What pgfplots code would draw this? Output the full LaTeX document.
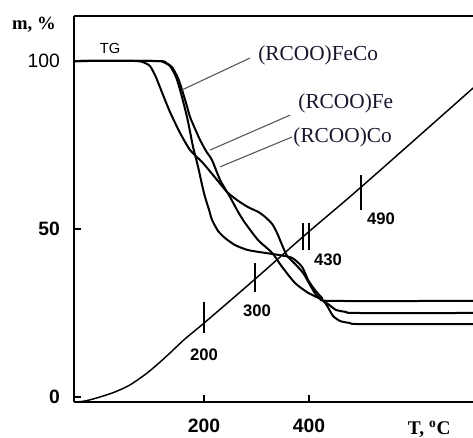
\documentclass[border=0pt]{standalone}
\usepackage{fontspec}
\setmainfont{Liberation Serif}
\setsansfont{Liberation Sans}
\usepackage{pgfplots}
\pgfplotsset{compat=1.18}
\definecolor{lbl}{RGB}{22,22,45}
\definecolor{ptr}{RGB}{85,85,85}

\begin{document}
\begin{tikzpicture}
\useasboundingbox (-55.5pt,-26.25pt) rectangle (299.25pt,301.5pt);
\begin{axis}[
  at={(0,0)}, anchor=south west,
  scale only axis, width=299.25pt, height=289.5pt,
  xmin=-47.6, xmax=712, ymin=-1.5, ymax=113.4,
  axis x line=bottom, axis y line=left,
  axis line style={-, line width=1.4pt},
  xtick={200,400}, ytick={0,50,100},
  xticklabels={\textbf{200},\textbf{400}},
  yticklabels={\textbf{0},\textbf{50}\hspace{7pt},100},
  tick align=inside, major tick length=5pt,
  tick style={line width=1.2pt, black},
  xticklabel style={font=\sffamily\fontsize{14.5}{16}\selectfont, yshift=-9pt},
  yticklabel style={font=\sffamily\fontsize{14.5}{16}\selectfont, xshift=-7pt},
  clip=false,
]
\draw[line width=1.4pt] (rel axis cs:0,1) -- (rel axis cs:1,1);

% TG curves
\addplot[black, line width=1.5pt, line join=round, smooth, tension=0.4] coordinates {
  (-47.6,100) (68.6,100) (87.6,99.4) (97.1,98.5) (106.7,95.8) (114.3,92.9)
  (121.9,89.9) (135.2,84.8) (154.3,78.6) (173.4,73.5) (198.1,69.6)
  (224.8,64.6) (243.8,61.0) (262.9,58.6) (283.8,56.5) (302.9,55.1)
  (316.2,53.6) (329.6,51.5) (339.1,48.8) (348.6,45.2) (358.1,42.0)
  (373.3,39.6) (388.6,36.9) (401.9,33.3) (413.3,30.4) (424.8,28.9)
  (438.1,27.4) (451.4,25.9) (470.5,25.3) (489.5,25.0) (712,25.0)
};
\addplot[black, line width=1.5pt, line join=round, smooth, tension=0.4] coordinates {
  (-47.6,100) (106.7,100) (121.9,99.7) (135.2,98.5) (146.7,95.2) (154.3,91.4)
  (161.9,86.9) (167.6,83.3) (173.4,78.9) (179.1,74.4) (188.6,68.5)
  (196.2,63.1) (201.9,59.5) (209.5,55.7) (215.2,52.7) (226.7,49.4)
  (240.0,47.3) (259.1,45.2) (281.9,43.8) (302.9,43.2) (341.0,42.3)
  (367.6,41.4) (386.7,38.7) (398.1,34.8) (411.4,31.8) (424.8,29.5)
  (440.0,28.6) (712,28.6)
};
\addplot[black, line width=1.5pt, line join=round, smooth, tension=0.4] coordinates {
  (-47.6,100) (112.4,100) (127.6,99.4) (139.0,98.2) (150.5,94.9) (158.1,91.4)
  (165.7,87.5) (173.4,83.3) (182.9,79.8) (192.4,76.5) (203.8,73.2)
  (215.2,70.5) (230.5,64.6) (249.5,59.5) (264.8,55.1) (278.1,51.8)
  (302.9,46.7) (329.6,42.9) (348.6,38.7) (373.3,33.9) (398.1,31.0)
  (424.8,28.9) (434.3,27.1) (445.7,24.1) (459.1,22.6) (478.1,22.0)
  (497.2,21.7) (712,21.7)
};

% temperature curve
\addplot[black, line width=1.1pt, smooth, tension=0.5] coordinates {
  (-47.6,-1.5) (-26.7,-1.2) (1.9,0) (30.5,1.5) (59.1,3.6) (91.4,7.1)
  (116.2,10.4) (135.2,13.1) (163.8,17.3) (200.0,22.0) (297.2,35.1)
  (394.3,48.5) (499.1,62.5) (712.5,92.0)
};
\addplot[black, line width=1.4pt] coordinates {(200,19.0) (200,28.3)};
\addplot[black, line width=1.4pt] coordinates {(297.2,31.3) (297.2,39.9)};
\addplot[black, line width=1.4pt] coordinates {(388.6,43.8) (388.6,51.8)};
\addplot[black, line width=1.4pt] coordinates {(400.0,43.8) (400.0,51.8)};
\addplot[black, line width=1.4pt] coordinates {(499.1,55.7) (499.1,66.1)};

% pointer lines
\addplot[ptr, line width=0.8pt] coordinates {(287.6,100.9) (158.1,91.4)};
\addplot[ptr, line width=0.8pt] coordinates {(363.8,83.9) (211.4,73.5)};
\addplot[ptr, line width=0.8pt] coordinates {(367.6,77.4) (230.5,68.5)};

\node[font=\fontsize{16}{18}\selectfont, text=lbl, anchor=west, inner sep=0pt] at (axis cs:302.9,101.8) {(RCOO)FeCo};
\node[font=\fontsize{16}{18}\selectfont, text=lbl, anchor=west, inner sep=0pt] at (axis cs:379.1,87.5) {(RCOO)Fe};
\node[font=\fontsize{16}{18}\selectfont, text=lbl, anchor=west, inner sep=0pt] at (axis cs:369.6,77.4) {(RCOO)Co};

\node[font=\sffamily\fontsize{11}{12}\selectfont] at (axis cs:21,103.6) {TG};

\node[font=\sffamily\bfseries\fontsize{12.5}{14}\selectfont] at (axis cs:200,12.5) {200};
\node[font=\sffamily\bfseries\fontsize{12.5}{14}\selectfont] at (axis cs:301,25.6) {300};
\node[font=\sffamily\bfseries\fontsize{12.5}{14}\selectfont] at (axis cs:436,40.8) {430};
\node[font=\sffamily\bfseries\fontsize{12.5}{14}\selectfont] at (axis cs:537,53.0) {490};

\node[font=\bfseries\fontsize{14}{16}\selectfont] at (axis cs:-123.8,110.7) {m, \%};
\node[font=\bfseries\fontsize{14.5}{16}\selectfont] at (axis cs:628.7,-9.5) {T, \textsuperscript{o}C};
\end{axis}
\end{tikzpicture}
\end{document}
